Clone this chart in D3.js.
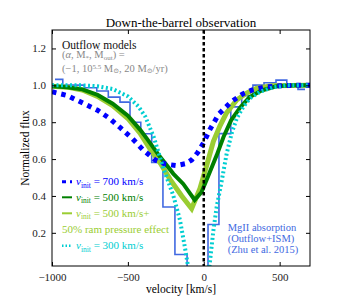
<!DOCTYPE html>
<meta charset="utf-8">
<head>
  <style>
    body { margin: 0; background: #fff; }
    svg text { font-family: "Liberation Serif", "DejaVu Serif", serif !important; }
  </style>
  <script src="https://d3js.org/d3.v7.min.js"></script>
</head>
<div id="chart"></div>
<script>

// model curves
var vel700 = [-1000,-900,-800,-700,-620,-550,-470,-400,-320,-250,-180,-120,-80,-40,0,40,100,180,260,320,400,500,600,700];
var flux700 = [0.965,0.945,0.905,0.865,0.82,0.77,0.71,0.65,0.595,0.572,0.565,0.575,0.595,0.635,0.69,0.76,0.845,0.91,0.955,0.975,0.99,0.998,1.0,1.0];

var vel500 = [-1000,-900,-800,-700,-600,-500,-420,-376,-288,-200,-135,-60,-15,30,85,130,180,240,300,380,480,600,700];
var flux500 = [0.995,0.99,0.978,0.948,0.9,0.835,0.76,0.712,0.612,0.52,0.465,0.378,0.42,0.51,0.62,0.72,0.81,0.88,0.935,0.972,0.995,1.0,1.0];

var vel500ram = [-1000,-900,-800,-700,-600,-500,-420,-350,-280,-222,-145,-80,-25,19,63,107,150,217,283,350,450,700];
var flux500ram = [0.995,0.99,0.975,0.94,0.89,0.82,0.74,0.65,0.57,0.49,0.40,0.331,0.44,0.565,0.695,0.78,0.85,0.92,0.958,0.985,0.998,1.0];

var vel300 = [-1000,-800,-700,-600,-500,-430,-385,-330,-266,-200,-157,-124,-100,-60,0,35,63,85,118,151,184,217,260,305,370,458,550,700];
var flux300 = [1.0,1.0,0.995,0.98,0.94,0.885,0.83,0.72,0.55,0.4,0.27,0.12,0.0,-0.1,-0.1,0.0,0.21,0.34,0.48,0.63,0.74,0.82,0.883,0.93,0.965,0.99,1.0,1.0];

// MgII observed spectrum (bin edges and flux per bin)
var obsEdges = [-980,-929,-787,-705,-629,-552,-486,-415,-343,-269,-190,-110,28,100,178,250,324,397,476,547,621,667];
var obsFlux = [1.032,1.001,0.987,0.969,0.936,0.909,0.80,0.737,0.581,0.34,0.082,0.0,0.245,0.738,0.883,0.943,1.001,1.014,1.028,1.007,0.978];

var xTicks = [-1000, -500, 0, 500];
var yTicks = [0.2, 0.4, 0.6, 0.8, 1.0, 1.2];

var legendRows = [
  {v: "700", extra: "", color: "blue", dash: "4,4", sw: 3},
  {v: "500", extra: "", color: "green", dash: null, sw: 2},
  {v: "500", extra: "+", color: "yellowgreen", dash: null, sw: 2},
  {v: "300", extra: "", color: "darkturquoise", dash: "1.5,2", sw: 2.5}
];

var serif = "Liberation Serif, DejaVu Serif, serif";

var W = 344, H = 301;
var margin = {top: 30, right: 34, bottom: 35, left: 52},
    width = W - margin.left - margin.right,
    height = H - margin.top - margin.bottom;

var svg = d3.select("#chart").append("svg")
    .attr("width", W)
    .attr("height", H)
    .attr("font-family", serif);

var g = svg.append("g")
    .attr("transform", "translate(" + margin.left + "," + margin.top + ")");

var x = d3.scaleLinear().domain([-1000, 700]).range([0, width]);
var y = d3.scaleLinear().domain([0.02, 1.3]).range([height, 0]);

g.append("clipPath").attr("id", "clip")
  .append("rect").attr("width", width).attr("height", height);

var plot = g.append("g").attr("clip-path", "url(#clip)");

// observed step spectrum
var stepPts = obsFlux.map(function(f, i) { return [obsEdges[i], f]; });
stepPts.push([obsEdges[obsEdges.length - 1], obsFlux[obsFlux.length - 1]]);
plot.append("path")
  .datum(stepPts)
  .attr("fill", "none")
  .attr("stroke", "royalblue")
  .attr("stroke-width", 1.6)
  .attr("d", d3.line().curve(d3.curveStepAfter)
      .x(function(d) { return x(d[0]); })
      .y(function(d) { return y(d[1]); }));

function curve(vel, flux, color, sw, dash) {
  var p = plot.append("path")
    .datum(vel.map(function(v, i) { return [v, flux[i]]; }))
    .attr("fill", "none")
    .attr("stroke", color)
    .attr("stroke-width", sw)
    .attr("d", d3.line()
        .x(function(d) { return x(d[0]); })
        .y(function(d) { return y(d[1]); }));
  if (dash) p.attr("stroke-dasharray", dash);
}

curve(vel500ram, flux500ram, "yellowgreen", 5, null);
curve(vel500, flux500, "green", 4, null);
curve(vel700, flux700, "blue", 5, "4.5,5");
curve(vel300, flux300, "darkturquoise", 4, "2,2.5");

// zero velocity line
plot.append("line")
  .attr("x1", x(0)).attr("x2", x(0))
  .attr("y1", 0).attr("y2", height)
  .attr("stroke", "black")
  .attr("stroke-width", 2.5)
  .attr("stroke-dasharray", "3.5,2.5");

// axes, ticks inward on all sides
var tickLen = 4;
g.append("g")
  .attr("transform", "translate(0," + height + ")")
  .call(d3.axisBottom(x).tickValues(xTicks).tickSizeInner(-tickLen).tickSizeOuter(0).tickPadding(7)
      .tickFormat(function(d) { return d < 0 ? "\u2212" + Math.abs(d) : d; }));
g.append("g")
  .call(d3.axisTop(x).tickValues(xTicks).tickSizeInner(-tickLen).tickSizeOuter(0).tickFormat(""));
g.append("g")
  .call(d3.axisLeft(y).tickValues(yTicks).tickSizeInner(-tickLen).tickSizeOuter(0).tickPadding(6)
      .tickFormat(d3.format(".1f")));
g.append("g")
  .attr("transform", "translate(" + width + ",0)")
  .call(d3.axisRight(y).tickValues(yTicks).tickSizeInner(-tickLen).tickSizeOuter(0).tickFormat(""));

g.selectAll(".domain").remove();
g.selectAll(".tick line").attr("stroke", "black");
g.selectAll("g").attr("font-family", serif);
g.selectAll(".tick text")
  .attr("fill", "#222")
  .attr("font-size", "11px");

g.append("rect")
  .attr("width", width).attr("height", height)
  .attr("fill", "none").attr("stroke", "black").attr("stroke-width", 1);

// title and axis labels
svg.append("text")
  .attr("x", margin.left + width / 2).attr("y", 27)
  .attr("text-anchor", "middle")
  .attr("font-size", "13px")
  .text("Down-the-barrel observation");

svg.append("text")
  .attr("x", margin.left + width / 2).attr("y", 293)
  .attr("text-anchor", "middle")
  .attr("font-size", "11.5px")
  .text("velocity [km/s]");

svg.append("text")
  .attr("transform", "translate(29," + (margin.top + height / 2) + ") rotate(-90)")
  .attr("text-anchor", "middle")
  .attr("font-size", "11.5px")
  .text("Normalized flux");

// model annotation
g.append("text").attr("x", 10).attr("y", 18.5)
  .attr("font-size", "11.5px").attr("fill", "#111")
  .text("Outflow models");
var l2 = g.append("text").attr("x", 10).attr("y", 28).attr("font-size", "10.5px").attr("fill", "#888");
l2.append("tspan").text("(");
l2.append("tspan").attr("font-style", "italic").text("\u03b1");
l2.append("tspan").text(", M");
l2.append("tspan").attr("dy", 2).attr("font-size", "7px").text("*");
l2.append("tspan").attr("dy", -2).text(", \u1e40");
l2.append("tspan").attr("dy", 2).attr("font-size", "7px").text("out");
l2.append("tspan").attr("dy", -2).text(") =");
var l3 = g.append("text").attr("x", 10).attr("y", 41.5).attr("font-size", "10.5px").attr("fill", "#888");
l3.append("tspan").text("(\u22121, 10");
l3.append("tspan").attr("dy", -3).attr("font-size", "7px").text("5.5");
l3.append("tspan").attr("dy", 3).text(" M");
l3.append("tspan").attr("dy", 1.5).attr("font-size", "7px").text("\u2299");
l3.append("tspan").attr("dy", -1.5).text(", 20 M");
l3.append("tspan").attr("dy", 1.5).attr("font-size", "7px").text("\u2299");
l3.append("tspan").attr("dy", -1.5).text("/yr)");

// legend
var rowY = [151.7, 167.3, 183.3, 215.7];
legendRows.forEach(function(r, i) {
  var yy = rowY[i];
  var ln = g.append("line")
    .attr("x1", 10).attr("x2", 20).attr("y1", yy).attr("y2", yy)
    .attr("stroke", r.color).attr("stroke-width", r.sw);
  if (r.dash) ln.attr("stroke-dasharray", r.dash);
  var t = g.append("text").attr("x", 24).attr("y", yy + 3.5)
    .attr("font-size", "11px").attr("fill", r.color);
  t.append("tspan").attr("font-style", "italic").text("v");
  t.append("tspan").attr("dy", 2.5).attr("font-size", "7.5px").text("init");
  t.append("tspan").attr("dy", -2.5).text(" = " + r.v + " km/s" + r.extra);
});
g.append("text").attr("x", 10).attr("y", 199.3 + 3.5)
  .attr("font-size", "11px").attr("fill", "yellowgreen")
  .text("50% ram pressure effect");

// observation label
var obsLines = ["MgII absorption", "(Outflow+ISM)", "(Zhu et al. 2015)"];
obsLines.forEach(function(s, i) {
  g.append("text")
    .attr("x", 175.7).attr("y", 200.5 + i * 11.3)
    .attr("font-size", "10.5px")
    .attr("fill", "royalblue")
    .text(s);
});

</script>
